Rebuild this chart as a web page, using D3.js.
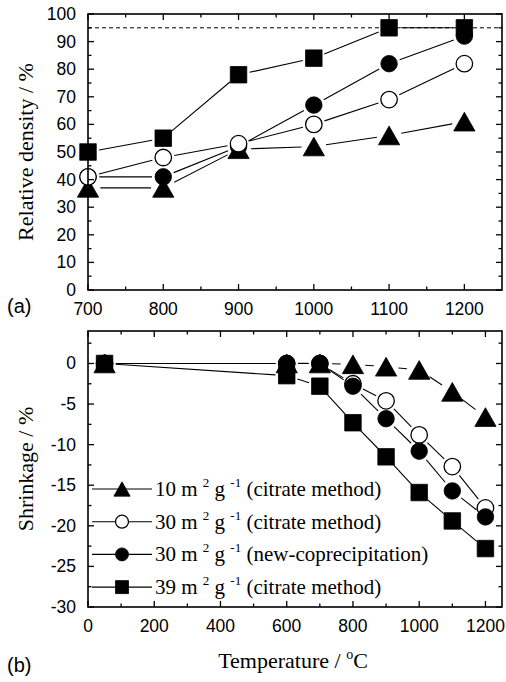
<!DOCTYPE html>
<html lang="en">
<head>
<meta charset="UTF-8">
<title>Relative density and shrinkage vs temperature</title>
<script src="https://d3js.org/d3.v7.min.js"></script>
<style>
  body { margin: 0; background: #fff; }
  .tick-label { font-family: "Liberation Sans", Arial, sans-serif; font-size: 17.5px; fill: #000; }
  .title { font-family: "Liberation Serif", "Times New Roman", serif; font-size: 22px; fill: #000; }
</style>
</head>
<body>
<div id="chart"></div>
<script>
// ---- data (a): relative density ----
const tempsA = [700, 800, 900, 1000, 1100, 1200];
const densSquare = [50, 55, 78, 84, 95, 95];   // 39 m2/g citrate
const densFilled = [41, 41, 52, 67, 82, 92];   // 30 m2/g new-coprecipitation
const densOpen   = [41, 48, 53, 60, 69, 82];   // 30 m2/g citrate
const densTri    = [37, 37, 51, 52, 56, 61];   // 10 m2/g citrate
const theoreticalLine = 95;

// ---- data (b): shrinkage ----
const tempsB = [50, 600, 700, 800, 900, 1000, 1100, 1200];
const shrTri    = [0, 0, 0, -0.1, -0.4, -0.8, -3.5, -6.6];
const shrOpen   = [0, 0, 0, -2.5, -4.6, -8.8, -12.7, -17.8];
const shrFilled = [0, 0, 0, -2.8, -6.8, -10.8, -15.7, -18.9];
const shrSquare = [0, -1.5, -2.8, -7.3, -11.5, -15.9, -19.4, -22.8];

const ticksA_x = [700, 800, 900, 1000, 1100, 1200];
const ticksA_y = [0, 10, 20, 30, 40, 50, 60, 70, 80, 90, 100];
const ticksB_x = [0, 200, 400, 600, 800, 1000, 1200];
const ticksB_y = [0, -5, -10, -15, -20, -25, -30];

const legendLabels = [
  { num: "10", method: "(citrate method)", marker: "tri" },
  { num: "30", method: "(citrate method)", marker: "open" },
  { num: "30", method: "(new-coprecipitation)", marker: "filled" },
  { num: "39", method: "(citrate method)", marker: "square" }
];

const W = 506, H = 682;
const svg = d3.select("#chart").append("svg")
  .attr("width", W).attr("height", H);

// marker shapes, size in px
function markerPath(type, s) {
  if (type === "square") return `M${-s/2},${-s/2}h${s}v${s}h${-s}Z`;
  if (type === "tri") { const w = s * 1.25, h = s * 1.1; return `M0,${-h/2}L${w/2},${h/2}L${-w/2},${h/2}Z`; }
  const r = s / 2;
  return `M${r},0A${r},${r} 0 1,1 ${-r},0A${r},${r} 0 1,1 ${r},0Z`;
}
function markerRadius(type, s) {
  return type === "tri" ? s * 0.55 : s / 2;
}
function drawMarker(g, type, x, y, s) {
  g.append("path")
    .attr("d", markerPath(type, s))
    .attr("transform", `translate(${x},${y})`)
    .attr("fill", type === "open" ? "#fff" : "#000")
    .attr("stroke", "#000")
    .attr("stroke-width", type === "open" ? 1.3 : 0.8);
}

// lines stop short of markers, like the original plot
function drawSeries(g, xs, ys, xScale, yScale, type, s) {
  const pts = xs.map((t, i) => [xScale(t), yScale(ys[i])]);
  const gap = markerRadius(type, s) + 3;
  for (let i = 0; i < pts.length - 1; i++) {
    const [x1, y1] = pts[i], [x2, y2] = pts[i + 1];
    const len = Math.hypot(x2 - x1, y2 - y1);
    if (len <= 2 * gap) continue;
    const ux = (x2 - x1) / len, uy = (y2 - y1) / len;
    g.append("line")
      .attr("x1", x1 + ux * gap).attr("y1", y1 + uy * gap)
      .attr("x2", x2 - ux * gap).attr("y2", y2 - uy * gap)
      .attr("stroke", "#000").attr("stroke-width", 1.1);
  }
  pts.forEach(p => drawMarker(g, type, p[0], p[1], s));
}

// frame + inward ticks on four sides
function drawFrame(xScale, yScale, xMajor, xMinor, yMajor, yMinor) {
  const [x0, x1] = xScale.range();
  const [y0, y1] = yScale.range(); // y0 bottom, y1 top
  const g = svg.append("g");
  const tick = (xa, ya, xb, yb) => g.append("line")
    .attr("x1", xa).attr("y1", ya).attr("x2", xb).attr("y2", yb)
    .attr("stroke", "#000").attr("stroke-width", 1.3);
  xMajor.forEach(v => { const x = xScale(v); tick(x, y0, x, y0 - 6); tick(x, y1, x, y1 + 6); });
  xMinor.forEach(v => { const x = xScale(v); tick(x, y0, x, y0 - 3.5); tick(x, y1, x, y1 + 3.5); });
  yMajor.forEach(v => { const y = yScale(v); tick(x0, y, x0 + 6, y); tick(x1, y, x1 - 6, y); });
  yMinor.forEach(v => { const y = yScale(v); tick(x0, y, x0 + 3.5, y); tick(x1, y, x1 - 3.5, y); });
  g.append("rect")
    .attr("x", x0).attr("y", y1).attr("width", x1 - x0).attr("height", y0 - y1)
    .attr("fill", "none").attr("stroke", "#000").attr("stroke-width", 1.6);
  xMajor.forEach(v => g.append("text").attr("class", "tick-label")
    .attr("x", xScale(v)).attr("y", y0 + 25).attr("text-anchor", "middle").text(v));
  yMajor.forEach(v => g.append("text").attr("class", "tick-label")
    .attr("x", x0 - 12).attr("y", yScale(v) + 6).attr("text-anchor", "end").text(v));
}

// ---------- panel (a) ----------
const xA = d3.scaleLinear().domain([700, 1250]).range([88, 502]);
const yA = d3.scaleLinear().domain([0, 100]).range([290, 14]);

svg.append("line")
  .attr("x1", xA(700)).attr("x2", xA(1250))
  .attr("y1", yA(theoreticalLine)).attr("y2", yA(theoreticalLine))
  .attr("stroke", "#000").attr("stroke-width", 1).attr("stroke-dasharray", "4,3");

const gA = svg.append("g");
drawSeries(gA, tempsA, densSquare, xA, yA, "square", 16.5);
drawSeries(gA, tempsA, densTri, xA, yA, "tri", 17);
drawSeries(gA, tempsA, densFilled, xA, yA, "filled", 16.5);
drawSeries(gA, tempsA, densOpen, xA, yA, "open", 16.5);

drawFrame(xA, yA, ticksA_x, d3.range(750, 1250, 100), ticksA_y, d3.range(5, 100, 10));

svg.append("text").attr("class", "title")
  .attr("transform", `translate(33,${(yA(0) + yA(100)) / 2}) rotate(-90)`)
  .attr("text-anchor", "middle")
  .text("Relative density / %");
svg.append("text").attr("class", "tick-label").style("font-size", "20px")
  .attr("x", 7).attr("y", 313).text("(a)");

// ---------- panel (b) ----------
const xB = d3.scaleLinear().domain([0, 1250]).range([88, 502]);
const yB = d3.scaleLinear().domain([-30, 4]).range([607, 331]);

const gB = svg.append("g");
drawSeries(gB, tempsB, shrSquare, xB, yB, "square", 16.5);
drawSeries(gB, tempsB, shrTri, xB, yB, "tri", 17);
drawSeries(gB, tempsB, shrOpen, xB, yB, "open", 16.5);
drawSeries(gB, tempsB, shrFilled, xB, yB, "filled", 16.5);

drawFrame(xB, yB, ticksB_x, d3.range(100, 1250, 200), ticksB_y, [2.5, -2.5, -7.5, -12.5, -17.5, -22.5, -27.5]);

// legend
const leg = svg.append("g");
legendLabels.forEach((d, i) => {
  const y = 489 + i * 32.7;
  leg.append("line").attr("x1", 92).attr("x2", 152).attr("y1", y).attr("y2", y)
    .attr("stroke", "#000").attr("stroke-width", 1.1);
  drawMarker(leg, d.marker, 122, y, 13);
  const t = leg.append("text").attr("class", "title").style("font-size", "21px")
    .attr("x", 155).attr("y", y + 7);
  t.append("tspan").text(d.num + " m ");
  t.append("tspan").attr("dy", -9).style("font-size", "13px").text("2");
  t.append("tspan").attr("dy", 9).text(" g ");
  t.append("tspan").attr("dy", -9).style("font-size", "13px").text("-1");
  t.append("tspan").attr("dy", 9).text(" " + d.method);
});

svg.append("text").attr("class", "title")
  .attr("transform", `translate(33,${(yB(-30) + yB(4)) / 2}) rotate(-90)`)
  .attr("text-anchor", "middle")
  .text("Shrinkage / %");

const xt = svg.append("text").attr("class", "title")
  .attr("x", 293).attr("y", 668).attr("text-anchor", "middle");
xt.append("tspan").text("Temperature / ");
xt.append("tspan").attr("dy", -9).style("font-size", "14px").text("o");
xt.append("tspan").attr("dy", 9).text("C");

svg.append("text").attr("class", "tick-label").style("font-size", "20px")
  .attr("x", 7).attr("y", 672).text("(b)");
</script>
</body>
</html>
